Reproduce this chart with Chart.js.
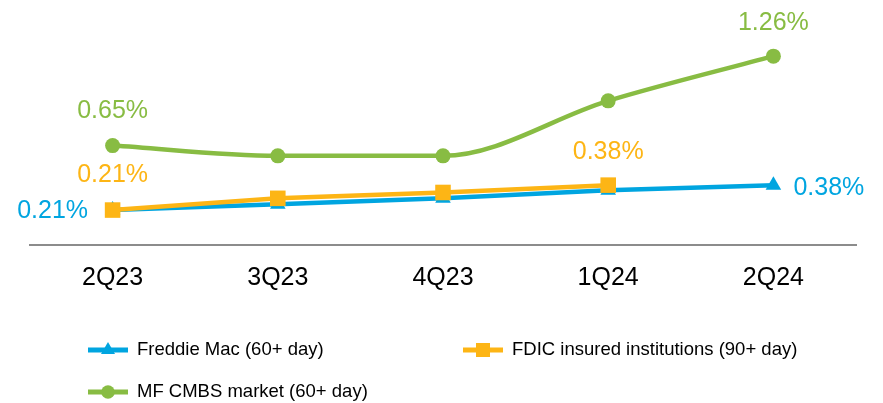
<!DOCTYPE html>
<html>
<head>
<meta charset="utf-8">
<script src="https://cdn.jsdelivr.net/npm/chart.js@4/dist/chart.umd.min.js"></script>
<style>
  html, body { margin: 0; padding: 0; background: #fff; }
  #wrap { position: relative; width: 883px; height: 403px; }
</style>
</head>
<body>
<div id="wrap"><canvas id="chart" width="883" height="403"></canvas></div>
<script>
const quarters = ['2Q23', '3Q23', '4Q23', '1Q24', '2Q24'];
const freddieMac = [0.21, 0.25, 0.29, 0.345, 0.38];
const fdicInsured = [0.21, 0.29, 0.33, 0.38, null];
const mfCmbs = [0.65, 0.58, 0.58, 0.955, 1.26];

const BLUE = '#00a5e0';
const ORANGE = '#fdb515';
const GREEN = '#88bc43';
const FONT = '"Liberation Sans", Arial, sans-serif';

// which points get a value label, and where it sits relative to the point
const labelSpots = [
  [{ i: 0, dx: -60, dy: 1 }, { i: 4, dx: 55.5, dy: 3 }],
  [{ i: 0, dx: 0, dy: -35 }, { i: 3, dx: 0, dy: -33 }],
  [{ i: 0, dx: 0, dy: -34 }, { i: 4, dx: 0, dy: -33 }]
];

const valueLabels = {
  id: 'valueLabels',
  afterDatasetsDraw(chart) {
    const ctx = chart.ctx;
    ctx.save();
    ctx.font = '25px ' + FONT;
    ctx.textAlign = 'center';
    ctx.textBaseline = 'middle';
    chart.data.datasets.forEach((ds, d) => {
      const meta = chart.getDatasetMeta(d);
      labelSpots[d].forEach(s => {
        const pt = meta.data[s.i];
        ctx.fillStyle = ds.borderColor;
        ctx.fillText(ds.data[s.i].toFixed(2) + '%', pt.x + s.dx, pt.y + s.dy);
      });
    });
    ctx.restore();
  }
};

// two-column legend under the axis
const legendSpots = [
  { x: 88, y: 350 },
  { x: 463, y: 350 },
  { x: 88, y: 392 }
];

const sideLegend = {
  id: 'sideLegend',
  afterDraw(chart) {
    const ctx = chart.ctx;
    ctx.save();
    chart.data.datasets.forEach((ds, d) => {
      const p = legendSpots[d];
      ctx.strokeStyle = ds.borderColor;
      ctx.lineWidth = 5;
      ctx.beginPath();
      ctx.moveTo(p.x, p.y);
      ctx.lineTo(p.x + 40, p.y);
      ctx.stroke();
      ctx.fillStyle = ds.borderColor;
      Chart.helpers.drawPoint(ctx, {
        pointStyle: ds.pointStyle,
        radius: ds.pointRadius * 0.9,
        borderWidth: 0
      }, p.x + 20, p.y);
      ctx.fillStyle = '#000';
      ctx.font = '18.5px ' + FONT;
      ctx.textAlign = 'left';
      ctx.textBaseline = 'middle';
      ctx.fillText(ds.label, p.x + 49, p.y);
    });
    ctx.restore();
  }
};

new Chart(document.getElementById('chart'), {
  type: 'line',
  data: {
    labels: quarters,
    datasets: [
      {
        label: 'Freddie Mac (60+ day)',
        data: freddieMac,
        borderColor: BLUE,
        backgroundColor: BLUE,
        pointStyle: 'triangle',
        pointRadius: 9,
        order: 2
      },
      {
        label: 'FDIC insured institutions (90+ day)',
        data: fdicInsured,
        borderColor: ORANGE,
        backgroundColor: ORANGE,
        pointStyle: 'rect',
        pointRadius: 11,
        order: 1
      },
      {
        label: 'MF CMBS market (60+ day)',
        data: mfCmbs,
        borderColor: GREEN,
        backgroundColor: GREEN,
        pointStyle: 'circle',
        pointRadius: 7.5,
        cubicInterpolationMode: 'monotone',
        order: 0
      }
    ]
  },
  options: {
    responsive: false,
    animation: false,
    layout: { padding: { left: 30, right: 27, top: 21, bottom: 90.5 } },
    elements: {
      line: { borderWidth: 4.5, tension: 0 },
      point: { borderWidth: 0, hoverRadius: 8 }
    },
    datasets: { line: { clip: false } },
    scales: {
      x: {
        offset: true,
        grid: { display: false, drawTicks: false },
        border: { display: true, color: '#8c8c8c', width: 2 },
        ticks: { color: '#000', padding: 19, font: { family: FONT, size: 25 } }
      },
      y: {
        display: false,
        min: -0.025,
        max: 1.5
      }
    },
    plugins: {
      legend: { display: false },
      tooltip: { enabled: false }
    }
  },
  plugins: [valueLabels, sideLegend]
});
</script>
</body>
</html>
